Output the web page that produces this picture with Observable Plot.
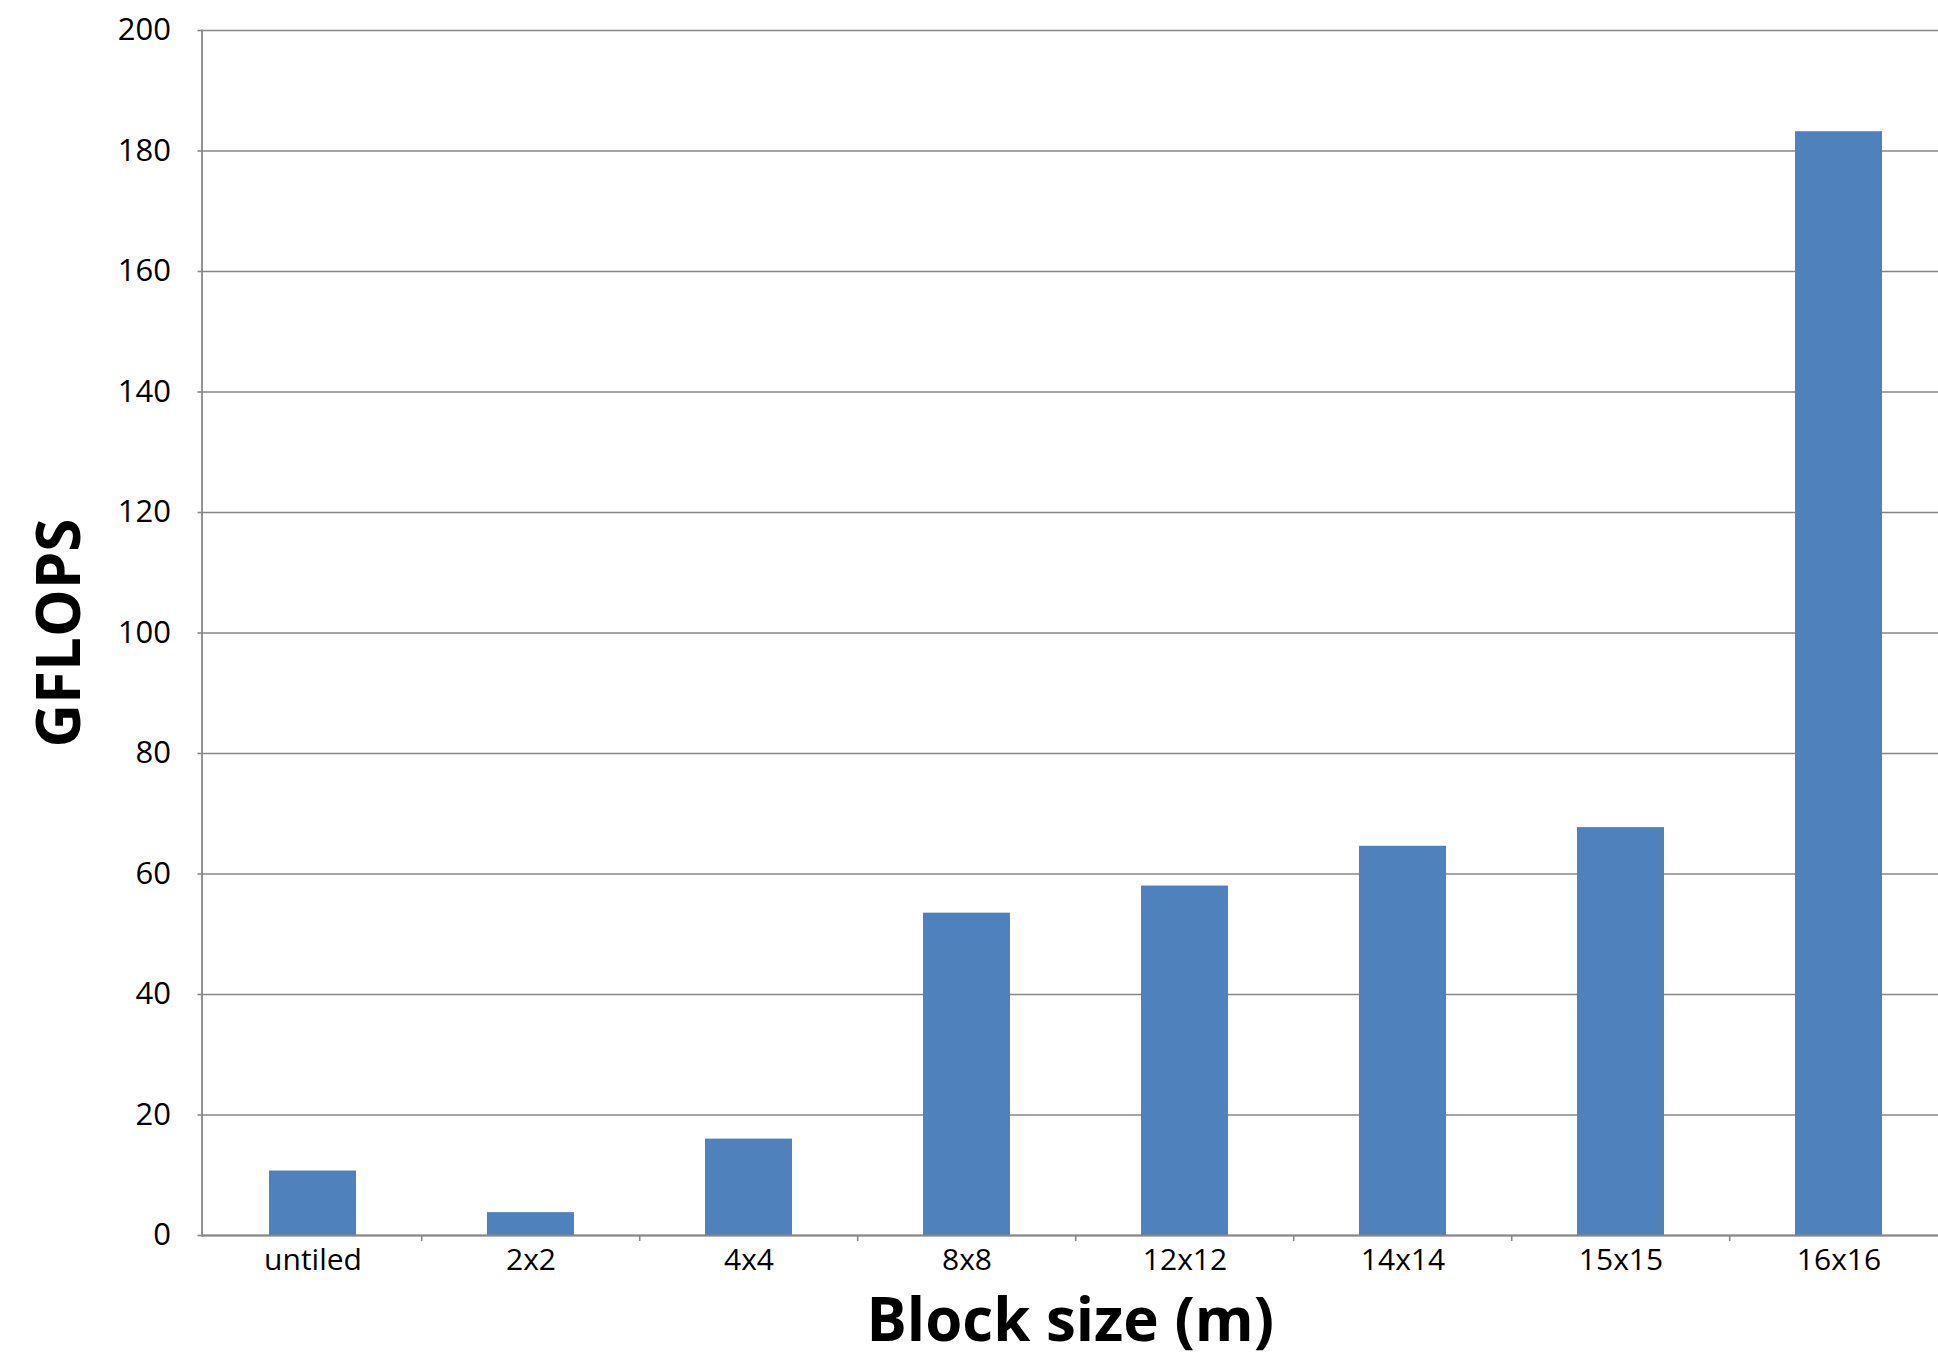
<!DOCTYPE html>
<html>
<head>
<meta charset="utf-8">
<script src="https://cdn.jsdelivr.net/npm/d3@7"></script>
<script src="https://cdn.jsdelivr.net/npm/@observablehq/plot@0.6"></script>
<style>
  html, body { margin: 0; padding: 0; background: #fff; overflow: hidden; }
  #chart svg { display: block; }
</style>
</head>
<body>
<div id="chart"></div>
<script>
// Block sizes tested and measured throughput
const blockSizes = ["untiled", "2x2", "4x4", "8x8", "12x12", "14x14", "15x15", "16x16"];
const gflops = [10.7, 3.8, 16.0, 53.5, 58.0, 64.6, 67.7, 183.2];
const yTicks = [0, 20, 40, 60, 80, 100, 120, 140, 160, 180, 200];

const data = blockSizes.map((b, i) => ({block: b, value: gflops[i]}));

const W = 1938, H = 1360;
const left = 201.5, right = 1950;   // plot area runs slightly past the page edge
const step = (right - left) / blockSizes.length;
const gray = "#878787";
const font = "'Open Sans', sans-serif";

const chart = Plot.plot({
  width: W,
  height: H,
  marginLeft: left,
  marginRight: 0,
  marginTop: 30,
  marginBottom: 125,
  style: {fontFamily: font, color: "#000", background: "#fff"},
  x: {domain: blockSizes, range: [left, right], paddingInner: 0.6, paddingOuter: 0.3},
  y: {domain: [0, 200]},
  marks: [
    Plot.gridY(yTicks, {stroke: gray, strokeOpacity: 1, strokeWidth: 1.6}),
    Plot.barY(data, {x: "block", y: "value", fill: "#4F81BD"}),
    Plot.ruleY([0], {stroke: gray, strokeWidth: 1.8}),
    Plot.frame({anchor: "left", stroke: gray, strokeWidth: 1.8}),
    // category boundary ticks below the baseline
    Plot.ruleX(blockSizes.slice(1), {x: d => d, dx: -step / 2, y1: 0, y2: 0, insetTop: 6, stroke: gray, strokeWidth: 1.6}),
    Plot.axisY(yTicks, {tickSize: 4, tickPadding: 27, fontSize: 31, label: null, stroke: gray, strokeWidth: 1.6}),
    Plot.axisX({tickSize: 0, tickPadding: 13, fontSize: 30, label: null}),
    Plot.text(["GFLOPS"], {frameAnchor: "left", dx: 60.5 - left, rotate: -90, fontSize: 60, fontWeight: "bold", lineAnchor: "middle", textAnchor: "middle"}),
    Plot.text(["Block size (m)"], {frameAnchor: "bottom", dy: 86, fontSize: 60, fontWeight: "bold", lineAnchor: "middle", textAnchor: "middle"})
  ]
});

document.getElementById("chart").appendChild(chart);
</script>
</body>
</html>
